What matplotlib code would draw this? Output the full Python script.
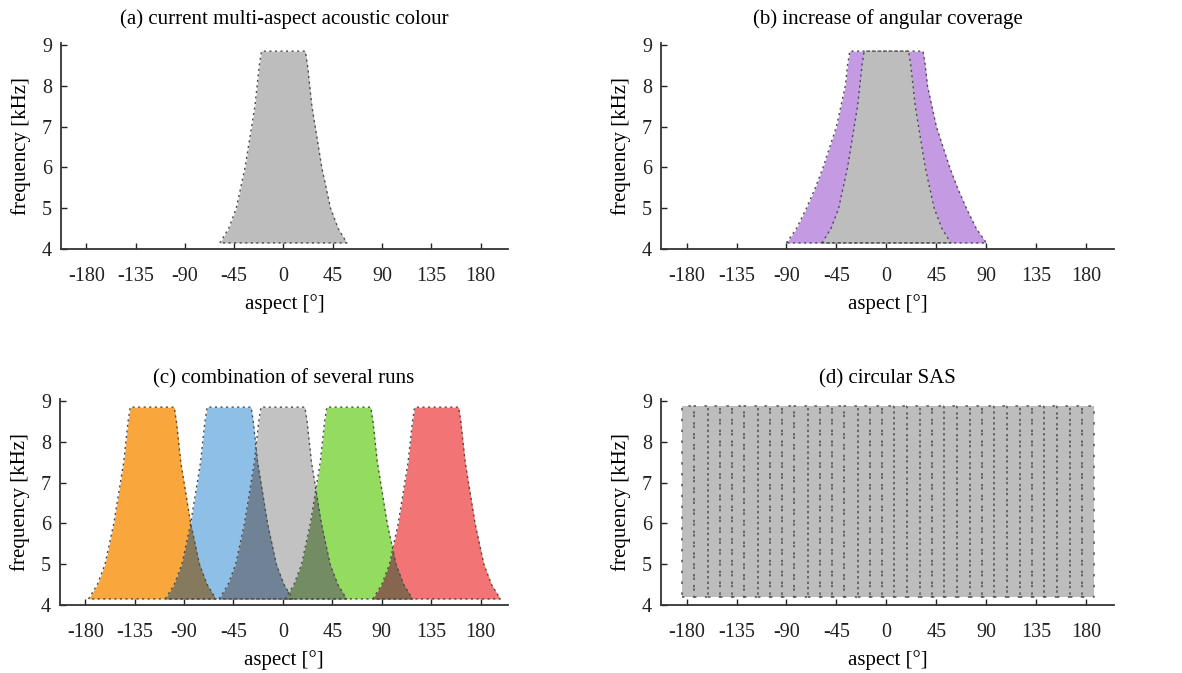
import numpy as np
import matplotlib.pyplot as plt

plt.rcParams["font.family"] = ["Liberation Serif", "DejaVu Serif"]
plt.rcParams["axes.unicode_minus"] = False

# ---- data ------------------------------------------------------------
# frequency levels [kHz] and the half width [deg] of one run's footprint
freq = [4.15, 4.5, 5.0, 5.5, 6.0, 6.5, 7.0, 7.5, 8.0, 8.5, 8.85]
half_width = [58, 50, 43, 39, 35, 32, 29, 26, 24, 22, 20]
# wider footprint from the increased angular coverage (panel b)
half_width_wide = [90, 81, 72, 64, 57, 51, 45, 41, 37, 35, 33]

# panel (c): centre aspect of each run
run_centres = [-119, -49, 0, 60, 140]

# panel (d): strip edges of the circular SAS coverage
sas_edges = [-184, -173, -161, -150, -139, -128, -116, -105, -94, -83, -71,
             -60, -49, -38, -26, -15, -4, 7, 19, 30, 41, 52, 64, 75, 86, 97,
             109, 120, 131, 142, 154, 165, 176, 187]
sas_fmin, sas_fmax = 4.2, 8.87

xticks = [-180, -135, -90, -45, 0, 45, 90, 135, 180]
yticks = [4, 5, 6, 7, 8, 9]
titles = ["(a) current multi-aspect acoustic colour",
          "(b) increase of angular coverage",
          "(c) combination of several runs",
          "(d) circular SAS"]

# ---- style --------------------------------------------------------------
GRAY = "#bdbdbd"
PURPLE = "#c49be2"
RUN_COLORS = ["#f9a63d", "#8ebfe7", "#c2c2c2", "#93dc5f", "#f27474"]
OVERLAP_COLORS = ["#857a5e", "#6f8296", "#738c63", "#86664f"]
EDGE = dict(color="#4a4a4a", lw=1.0, ls=(0, (1.5, 2.5)))
SAS_EDGE = dict(color="#505050", lw=1.1, ls=(0, (1.6, 5.5)))
FS = 15

W, H = 1182, 673
fig = plt.figure(figsize=(W / 100, H / 100), dpi=100)


def make_ax(x0, x1, ybot, title, tpad):
    # pixel box -> figure fraction; ylim top a touch above 9
    h = 206
    ax = fig.add_axes([x0 / W, (H - ybot) / H, (x1 - x0) / W, h / H])
    ax.set_xlim(-203, 205)
    ax.set_ylim(4, 9.05)
    ax.set_xticks(xticks)
    ax.set_yticks(yticks)
    ax.tick_params(direction="in", length=4, width=1, labelsize=14.5,
                   colors="#222222")
    ax.tick_params(axis="x", pad=13)
    ax.tick_params(axis="y", pad=6.5)
    for s in ("top", "right"):
        ax.spines[s].set_visible(False)
    for s in ("left", "bottom"):
        ax.spines[s].set_color("#333333")
        ax.spines[s].set_linewidth(1.3)
    ax.set_xlabel("aspect [°]", fontsize=FS, labelpad=6)
    ax.set_ylabel("frequency [kHz]", fontsize=FS, labelpad=8)
    ax.set_title(title, fontsize=FS, pad=tpad)
    return ax


def footprint(ax, centre, hw, color):
    f = np.array(freq)
    hw = np.array(hw)
    xl, xr = centre - hw, centre + hw
    ax.fill_betweenx(f, xl, xr, color=color, lw=0)
    return xl, xr


def outline(ax, xl, xr):
    f = np.array(freq)
    xs = np.concatenate([xl, xr[::-1], xl[:1]])
    ys = np.concatenate([f, f[::-1], f[:1]])
    ax.plot(xs, ys, **EDGE)


# (a)
axa = make_ax(61, 508, 249, titles[0], 14)
xl, xr = footprint(axa, 0, half_width, GRAY)
outline(axa, xl, xr)

# (b)
axb = make_ax(661, 1114, 249, titles[1], 14)
wl, wr = footprint(axb, 0, half_width_wide, PURPLE)
xl, xr = footprint(axb, 0, half_width, GRAY)
outline(axb, wl, wr)
outline(axb, xl, xr)

# (c)
axc = make_ax(60, 508, 605, titles[2], 11)
edges = [footprint(axc, c, half_width, col)
         for c, col in zip(run_centres, RUN_COLORS)]
f = np.array(freq)
for i, col in enumerate(OVERLAP_COLORS):
    left = edges[i + 1][0]
    right = edges[i][1]
    axc.fill_betweenx(f, left, right, where=left < right, interpolate=True,
                      color=col, lw=0)
for xl, xr in edges:
    outline(axc, xl, xr)

# (d)
axd = make_ax(661, 1114, 605, titles[3], 11)
axd.fill([sas_edges[0], sas_edges[-1], sas_edges[-1], sas_edges[0]],
         [sas_fmin, sas_fmin, sas_fmax, sas_fmax], color=GRAY, lw=0)
for a0, a1 in zip(sas_edges[:-1], sas_edges[1:]):
    axd.plot([a0, a1, a1, a0, a0], [sas_fmin, sas_fmin, sas_fmax, sas_fmax,
                                    sas_fmin], **SAS_EDGE)

fig.savefig("out.png", dpi=100)
